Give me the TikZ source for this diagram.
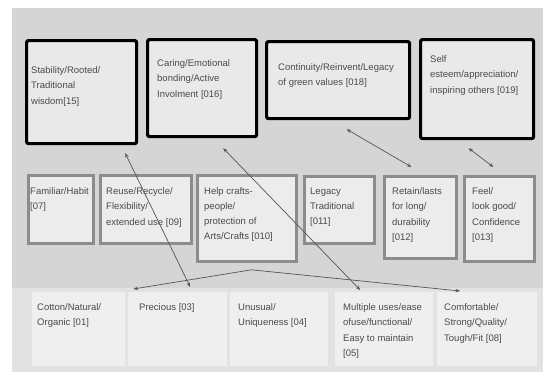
\documentclass[tikz,border=0pt]{standalone}
\usepackage{fontspec}
\setmainfont{Liberation Sans}
\usetikzlibrary{calc,arrows.meta}
\definecolor{panelc}{HTML}{D5D5D5}
\definecolor{bandc}{HTML}{E2E2E2}
\definecolor{topfill}{HTML}{E9E9E9}
\definecolor{midfill}{HTML}{ECECEC}
\definecolor{midline}{HTML}{8C8C8C}
\definecolor{botfill}{HTML}{EFEFEF}
\definecolor{txtc}{HTML}{4A4A4A}
\definecolor{linec}{HTML}{555555}
\newcommand\diabox[9]{%
  \node[#2, anchor=north west, minimum width={(#5)-(#3)}, minimum height={(#6)-(#4)}] (#1) at (#3,#4) {};
  \node[txt] (#1x) at (#7,{#8-7}) {#9};}
\begin{document}
\begin{tikzpicture}[x=1pt,y=-1pt,
  topbox/.style={draw=black, line width=3.2pt, fill=topfill, rounded corners=2pt, inner sep=0},
  midbox/.style={draw=midline, line width=2.8pt, fill=midfill, inner sep=0},
  botbox/.style={fill=botfill, inner sep=0},
  txt/.style={font=\fontsize{9.5pt}{15.3pt}\selectfont, text=txtc, align=left, inner sep=0, anchor=north west},
  link/.style={draw=linec, line width=0.7pt},
  dbl/.style={link, {Stealth[length=4.5pt,width=3.5pt]}-{Stealth[length=4.5pt,width=3.5pt]}},
  sgl/.style={link, -{Stealth[length=4.5pt,width=3.5pt]}}]
\useasboundingbox (0,0) rectangle (551,378);
\fill[white] (0,0) rectangle (551,378);
\fill[panelc] (12,8) rectangle (543,372);
\fill[bandc] (12,288) rectangle (543,372);
% top row
\diabox{t1}{topbox}{25}{39}{135}{142}{31}{73.5}{Stability/Rooted/\\Traditional\\wisdom[15]}
\diabox{t2}{topbox}{146}{38}{255}{135}{157}{66.5}{Caring/Emotional\\bonding/Active\\Involment [016]}
\diabox{t3}{topbox}{265}{40}{408}{117}{278}{70.5}{Continuity/Reinvent/Legacy\\of green values [018]}
\diabox{t4}{topbox}{419}{38}{532}{137}{430}{62.5}{Self\\esteem/appreciation/\\inspiring others [019]}
% middle row
\diabox{m1}{midbox}{27}{174}{92}{242}{30}{194}{Familiar/Habit\\{}[07]}
\diabox{m2}{midbox}{99}{174}{190}{242}{106}{194.5}{Reuse/Recycle/\\Flexibility/\\extended use [09]}
\diabox{m3}{midbox}{196}{174}{295}{260}{204}{194}{Help crafts-\\people/\\protection of\\Arts/Crafts [010]}
\diabox{m4}{midbox}{303}{175}{373}{242}{310}{194.5}{Legacy\\Traditional\\{}[011]}
\diabox{m5}{midbox}{383}{175}{455}{257}{392}{194.5}{Retain/lasts\\for long/\\durability\\{}[012]}
\diabox{m6}{midbox}{463}{175}{533}{260}{472}{194.5}{Feel/\\look good/\\Confidence\\{}[013]}
% bottom row
\diabox{b1}{botbox}{32}{292}{125}{366}{37}{310.5}{Cotton/Natural/\\Organic [01]}
\diabox{b2}{botbox}{128}{292}{227}{366}{139}{310.5}{Precious [03]}
\diabox{b3}{botbox}{230}{292}{328}{366}{238}{310.5}{Unusual/\\Uniqueness [04]}
\diabox{b4}{botbox}{335}{292}{433}{366}{343}{310.5}{Multiple uses/ease\\ofuse/functional/\\Easy to maintain\\{}[05]}
\diabox{b5}{botbox}{437}{292}{537}{366}{444}{310.5}{Comfortable/\\Strong/Quality/\\Tough/Fit [08]}
% connectors
\draw[dbl] ($(t1.south east)+(-13,8)$) -- ($(b2.north)+(12.5,-5)$);
\draw[dbl] ($(t2.south east)+(-35,10)$) -- ($(b4.north)+(-24,-2)$);
\draw[dbl] ($(t3.south)+(8.5,9)$) -- ($(m5.north)+(-9,-8)$);
\draw[dbl] ($(t4.south)+(-8.5,8)$) -- ($(m6.north)+(-6,-8)$);
\coordinate (j) at ($(m3.south)+(4.5,7)$);
\draw[sgl] (j) -- ($(b1.north east)+(8,-3)$);
\draw[sgl] (j) -- ($(b5.north west)+(23,-1)$);
\end{tikzpicture}
\end{document}
